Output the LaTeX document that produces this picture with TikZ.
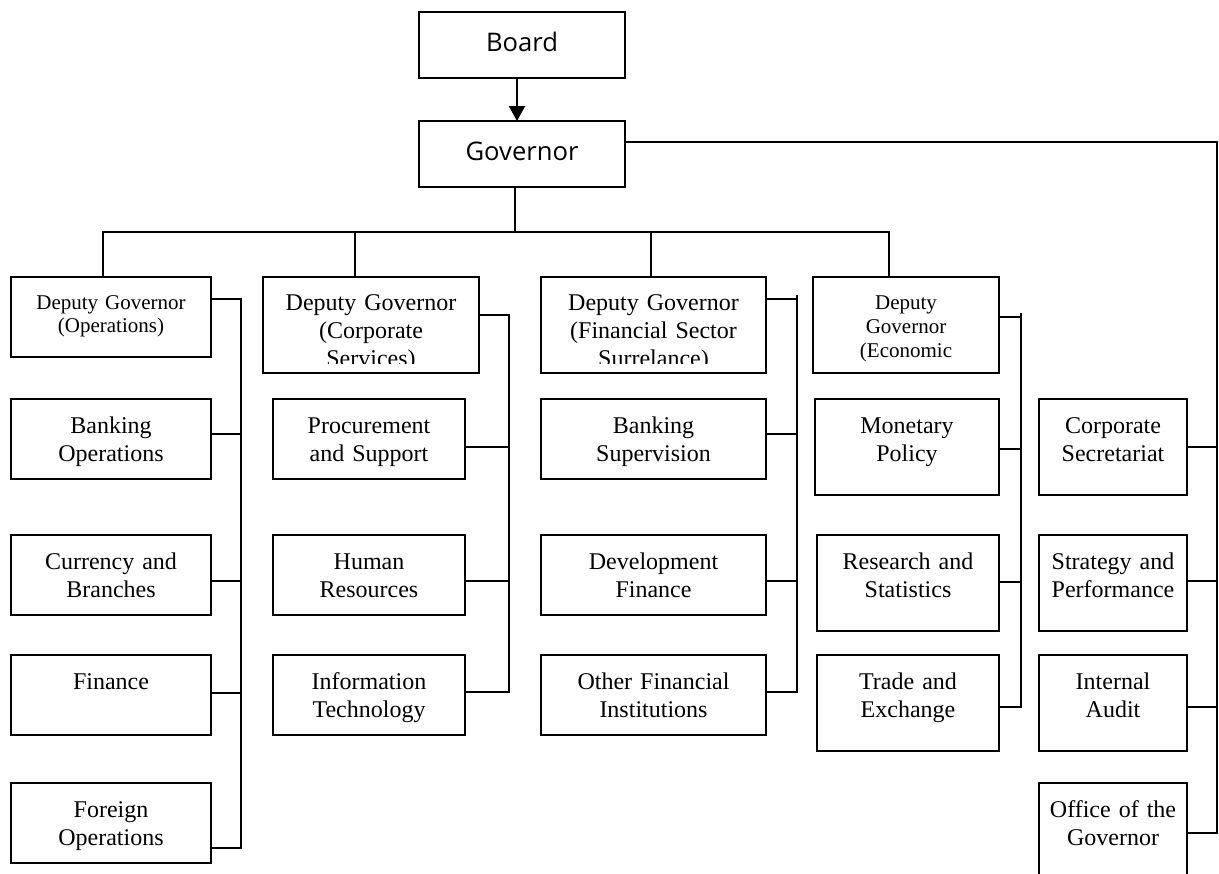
\documentclass[tikz,border=0pt]{standalone}
\usepackage{fontspec}
\setmainfont{Liberation Serif}
\newfontfamily\osans{Open Sans}
\usetikzlibrary{calc,arrows.meta}
\begin{document}
\begin{tikzpicture}[x=0.5pt,y=-0.5pt,line width=1pt,
  bx/.style={draw, line width=1pt, anchor=north west, inner sep=0pt, outer sep=0pt, align=center},
  topbox/.style={bx, text width=103pt, text height=19.5pt, text depth=13.5pt, font=\osans\fontsize{12.8}{15}\selectfont},
  unitbox/.style 2 args={bx, text width=#1, text height=17pt, text depth=#2, font=\fontsize{12}{14}\selectfont},
  smalldep/.style 2 args={bx, text width=#1, text height=16pt, text depth=#2, font=\fontsize{10.5}{11.5}\selectfont},
  cliptext/.style={anchor=north, inner sep=0pt, text width=100pt, align=center, text height=16.5pt, font=\fontsize{12}{14}\selectfont},
  arr/.style={-{Triangle[length=7.5pt,width=8pt]}}
]
\useasboundingbox (0,0) rectangle (1219,873);

% top
\node[topbox] (board) at (419,12) {Board};
\node[topbox] (gov) at (419,121) {Governor};

% deputies
\node[smalldep={100pt}{24pt}] (dgo) at (11,277) {Deputy Governor\\(Operations)};
\node[bx, minimum width=108pt, minimum height=48pt, path picture={
  \clip (path picture bounding box.north west) rectangle ([yshift=5pt]path picture bounding box.south east);
  \node[cliptext] (dgct) at (path picture bounding box.north) {Deputy Governor\\(Corporate\\Services)};
}] (dgc) at (263,277) {};
\node[bx, minimum width=112.5pt, minimum height=48pt, path picture={
  \clip (path picture bounding box.north west) rectangle ([yshift=5pt]path picture bounding box.south east);
  \node[cliptext, text width=110pt] (dgft) at (path picture bounding box.north) {Deputy Governor\\(Financial Sector\\Surrelance)};
}] (dgf) at (541,277) {};
\node[bx, text width=93pt, text height=16pt, text depth=32pt, font=\fontsize{10.5}{12}\selectfont] (dge) at (813,277) {Deputy\\Governor\\(Economic};

% column 1
\node[unitbox={100pt}{23pt}] (bo) at (11,399) {Banking\\Operations};
\node[unitbox={100pt}{23pt}] (cb) at (11,535) {Currency and\\Branches};
\node[unitbox={100pt}{23pt}] (fi) at (11,655) {Finance};
\node[unitbox={100pt}{23pt}] (fo) at (11,783) {Foreign\\Operations};

% column 2
\node[unitbox={96pt}{23pt}] (ps) at (273,399) {Procurement\\and Support};
\node[unitbox={96pt}{23pt}] (hr) at (273,535) {Human\\Resources};
\node[unitbox={96pt}{23pt}] (it) at (273,655) {Information\\Technology};

% column 3
\node[unitbox={112.5pt}{23pt}] (bs) at (541,399) {Banking\\Supervision};
\node[unitbox={112.5pt}{23pt}] (df) at (541,535) {Development\\Finance};
\node[unitbox={112.5pt}{23pt}] (of) at (541,655) {Other Financial\\Institutions};

% column 4
\node[unitbox={92pt}{31pt}] (mp) at (815,399) {Monetary\\Policy};
\node[unitbox={91pt}{31pt}] (rs) at (817,535) {Research and\\Statistics};
\node[unitbox={91pt}{31pt}] (te) at (817,655) {Trade and\\Exchange};

% column 5
\node[unitbox={74pt}{31pt}] (cs) at (1039,399) {Corporate\\Secretariat};
\node[unitbox={74pt}{31pt}] (sp) at (1039,535) {Strategy and\\Performance};
\node[unitbox={74pt}{31pt}] (ia) at (1039,655) {Internal\\Audit};
\node[unitbox={74pt}{31pt}] (og) at (1039,783) {Office of the\\Governor};

% board -> governor
\draw[arr] ([xshift=-2.5pt]board.south) -- ([xshift=-2.5pt]gov.north);

% governor -> deputies
\draw ([xshift=-3.5pt]gov.south) -- ++(0,45);
\draw ($(dgo.north west)+(92,0)$) -- ++(0,-45) -- ($(dge.north west)+(76,-45)$) -- ($(dge.north west)+(76,0)$);
\draw ($(dgc.north west)+(92,0)$) -- ++(0,-45);
\draw ($(dgf.north west)+(110,0)$) -- ++(0,-45);

% governor -> staff column
\draw ($(gov.north east)+(0,21)$) -| ($(og.north east)+(30,50)$) -- ($(og.north east)+(0,50)$);
\draw ($(cs.north east)+(0,48)$) -- ++(30,0);
\draw ($(sp.north east)+(0,46)$) -- ++(30,0);
\draw ($(ia.north east)+(0,52)$) -- ++(30,0);

% column 1
\draw ($(dgo.north east)+(0,22)$) -- ++(30,0) |- ($(fo.north east)+(0,65)$);
\draw ($(bo.north east)+(0,35)$) -- ++(30,0);
\draw ($(cb.north east)+(0,46)$) -- ++(30,0);
\draw ($(fi.north east)+(0,38)$) -- ++(30,0);

% column 2
\draw ($(dgc.north east)+(0,38)$) -- ++(30,0) |- ($(it.north east)+(0,37)$);
\draw ($(ps.north east)+(0,48)$) -- ++(44,0);
\draw ($(hr.north east)+(0,46)$) -- ++(44,0);

% column 3
\draw ($(dgf.north east)+(0,22)$) -- ++(31,0);
\draw ($(dgf.north east)+(31,18)$) |- ($(of.north east)+(0,37)$);
\draw ($(bs.north east)+(0,35)$) -- ++(31,0);
\draw ($(df.north east)+(0,46)$) -- ++(31,0);

% column 4
\draw ($(dge.north east)+(0,40)$) -- ++(22,0);
\draw ($(dge.north east)+(22,36)$) |- ($(te.north east)+(0,52)$);
\draw ($(mp.north east)+(0,50)$) -- ++(22,0);
\draw ($(rs.north east)+(0,47)$) -- ++(22,0);
\end{tikzpicture}
\end{document}
